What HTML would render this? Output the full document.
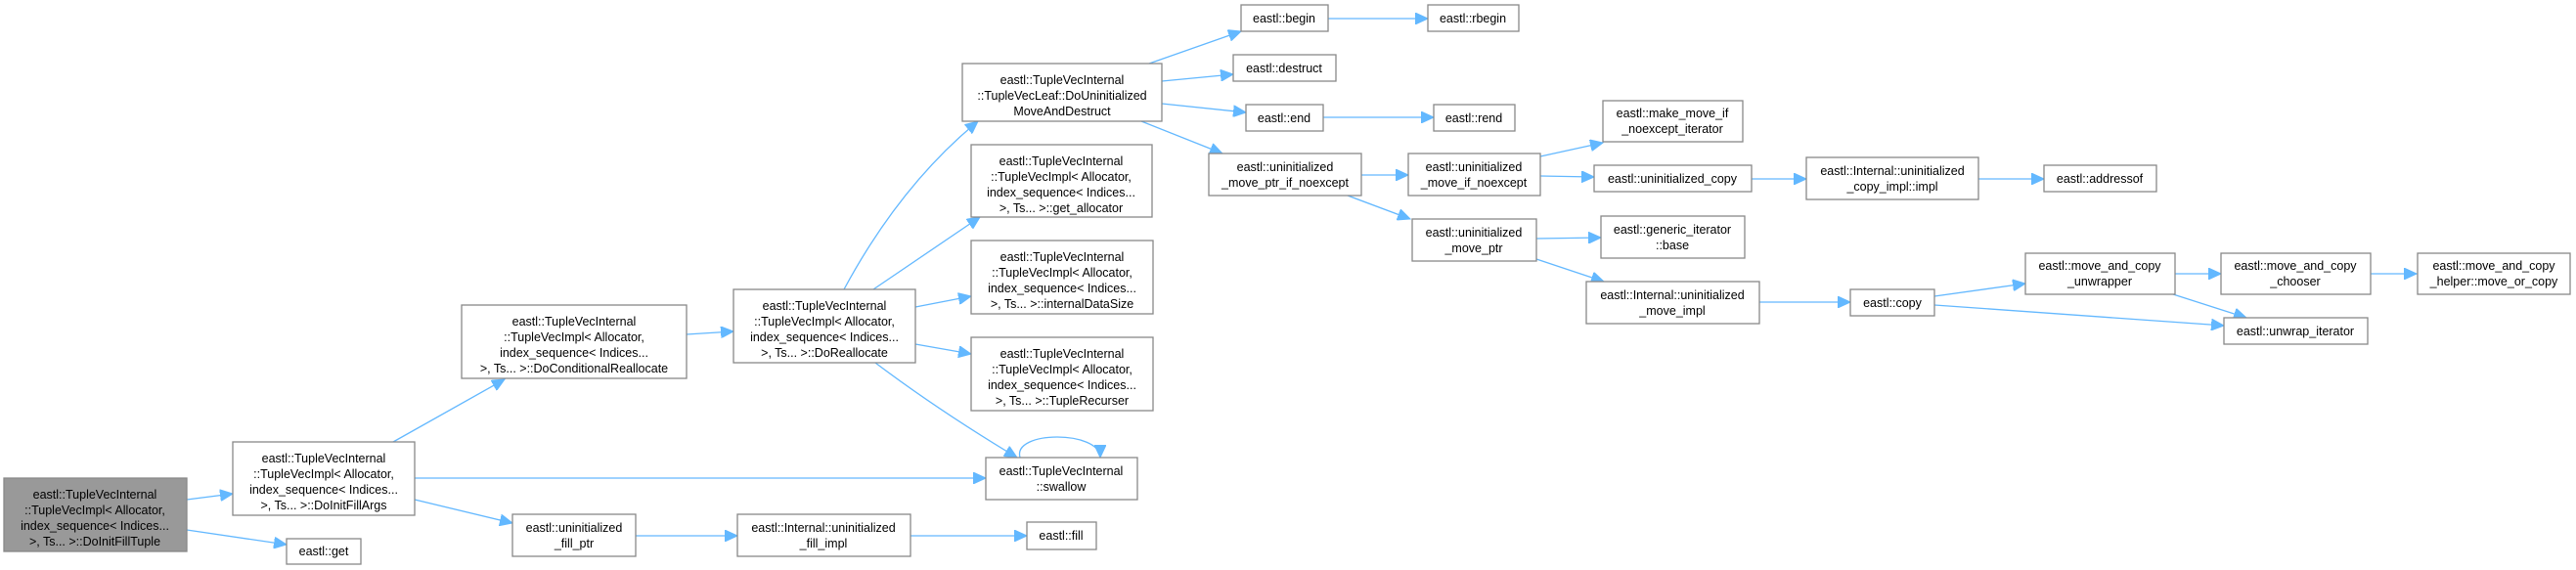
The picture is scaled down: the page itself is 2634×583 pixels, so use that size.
<!DOCTYPE html>
<html><head><meta charset="utf-8"><style>
html,body{margin:0;padding:0;background:#fff;}
svg{display:block;}
text{font-family:"Liberation Sans",Arial,sans-serif;font-size:12.5px;fill:#000;text-anchor:middle;}
rect{fill:#fff;stroke:#888;stroke-width:1.3;}
path,line{stroke:#63b8ff;stroke-width:1.3;fill:none;}
</style></head><body>
<svg width="2634" height="583" viewBox="0 0 2634 583" xmlns="http://www.w3.org/2000/svg">
<defs><marker id="a" markerUnits="userSpaceOnUse" markerWidth="14" markerHeight="12" refX="13" refY="6" orient="auto"><path d="M0,0 L13,6 L0,12 Z" style="fill:#63b8ff;stroke:#63b8ff;stroke-width:1"/></marker></defs>
<g marker-end="url(#a)">
<line x1="191" y1="511" x2="238" y2="505"/>
<line x1="191" y1="542" x2="293" y2="557"/>
<line x1="402" y1="452" x2="516" y2="388"/>
<line x1="424" y1="489" x2="1008" y2="489"/>
<line x1="424" y1="511" x2="524" y2="535"/>
<line x1="650" y1="548" x2="754" y2="548"/>
<line x1="931" y1="548" x2="1050" y2="548"/>
<line x1="702" y1="342" x2="750" y2="339"/>
<line x1="936" y1="314" x2="993" y2="303"/>
<line x1="936" y1="352" x2="993" y2="362"/>
<path d="M895,371 Q960,420 1040,468"/>
<line x1="893" y1="296" x2="1002" y2="222"/>
<path d="M863,296 Q920,190 1000,124"/>
<path d="M1043,468 C1035,440 1125,440 1125,468"/>
<line x1="1175" y1="65" x2="1269" y2="32"/>
<line x1="1188" y1="83" x2="1261" y2="76"/>
<line x1="1188" y1="106" x2="1274" y2="115"/>
<line x1="1167" y1="124" x2="1250" y2="157"/>
<line x1="1358" y1="19" x2="1460" y2="19"/>
<line x1="1353" y1="120" x2="1466" y2="120"/>
<line x1="1392" y1="179" x2="1440" y2="179"/>
<line x1="1378" y1="200" x2="1442" y2="224"/>
<line x1="1575" y1="160" x2="1639" y2="146"/>
<line x1="1575" y1="180" x2="1630" y2="181"/>
<line x1="1791" y1="183" x2="1847" y2="183"/>
<line x1="2023" y1="183" x2="2090" y2="183"/>
<line x1="1571" y1="244" x2="1637" y2="243"/>
<line x1="1571" y1="265" x2="1640" y2="288"/>
<line x1="1799" y1="309" x2="1892" y2="309"/>
<line x1="1978" y1="303" x2="2071" y2="290"/>
<line x1="1978" y1="312" x2="2274" y2="333"/>
<line x1="2224" y1="280" x2="2271" y2="280"/>
<line x1="2222" y1="301" x2="2297" y2="325"/>
<line x1="2424" y1="280" x2="2471" y2="280"/>
</g>
<!-- nodes -->
<rect x="4" y="489" width="187" height="75" style="fill:#999"/>
<text x="97" y="510">eastl::TupleVecInternal</text><text x="97" y="526">::TupleVecImpl&lt; Allocator,</text><text x="97" y="542">index_sequence&lt; Indices...</text><text x="97" y="558">&gt;, Ts... &gt;::DoInitFillTuple</text>
<rect x="238" y="452" width="186" height="75"/>
<text x="331" y="473">eastl::TupleVecInternal</text><text x="331" y="489">::TupleVecImpl&lt; Allocator,</text><text x="331" y="505">index_sequence&lt; Indices...</text><text x="331" y="521">&gt;, Ts... &gt;::DoInitFillArgs</text>
<rect x="472" y="312" width="230" height="75"/>
<text x="587" y="333">eastl::TupleVecInternal</text><text x="587" y="349">::TupleVecImpl&lt; Allocator,</text><text x="587" y="365">index_sequence&lt; Indices...</text><text x="587" y="381">&gt;, Ts... &gt;::DoConditionalReallocate</text>
<rect x="750" y="296" width="186" height="75"/>
<text x="843" y="317">eastl::TupleVecInternal</text><text x="843" y="333">::TupleVecImpl&lt; Allocator,</text><text x="843" y="349">index_sequence&lt; Indices...</text><text x="843" y="365">&gt;, Ts... &gt;::DoReallocate</text>
<rect x="984" y="65" width="204" height="59"/>
<text x="1086" y="86">eastl::TupleVecInternal</text><text x="1086" y="102">::TupleVecLeaf::DoUninitialized</text><text x="1086" y="118">MoveAndDestruct</text>
<rect x="993" y="148" width="185" height="74"/>
<text x="1085" y="169">eastl::TupleVecInternal</text><text x="1085" y="185">::TupleVecImpl&lt; Allocator,</text><text x="1085" y="201">index_sequence&lt; Indices...</text><text x="1085" y="217">&gt;, Ts... &gt;::get_allocator</text>
<rect x="993" y="246" width="186" height="75"/>
<text x="1086" y="267">eastl::TupleVecInternal</text><text x="1086" y="283">::TupleVecImpl&lt; Allocator,</text><text x="1086" y="299">index_sequence&lt; Indices...</text><text x="1086" y="315">&gt;, Ts... &gt;::internalDataSize</text>
<rect x="993" y="345" width="186" height="75"/>
<text x="1086" y="366">eastl::TupleVecInternal</text><text x="1086" y="382">::TupleVecImpl&lt; Allocator,</text><text x="1086" y="398">index_sequence&lt; Indices...</text><text x="1086" y="414">&gt;, Ts... &gt;::TupleRecurser</text>
<rect x="1008" y="468" width="155" height="43"/>
<text x="1085" y="486">eastl::TupleVecInternal</text><text x="1085" y="502">::swallow</text>
<rect x="293" y="551" width="76" height="26"/>
<text x="331" y="568">eastl::get</text>
<rect x="524" y="526" width="126" height="43"/>
<text x="587" y="544">eastl::uninitialized</text><text x="587" y="560">_fill_ptr</text>
<rect x="754" y="526" width="177" height="43"/>
<text x="842" y="544">eastl::Internal::uninitialized</text><text x="842" y="560">_fill_impl</text>
<rect x="1050" y="534" width="71" height="28"/>
<text x="1085" y="552">eastl::fill</text>
<rect x="1269" y="5" width="89" height="27"/>
<text x="1313" y="23">eastl::begin</text>
<rect x="1460" y="5" width="93" height="27"/>
<text x="1506" y="23">eastl::rbegin</text>
<rect x="1261" y="56" width="105" height="27"/>
<text x="1313" y="74">eastl::destruct</text>
<rect x="1274" y="107" width="79" height="27"/>
<text x="1313" y="125">eastl::end</text>
<rect x="1466" y="107" width="83" height="27"/>
<text x="1507" y="125">eastl::rend</text>
<rect x="1236" y="157" width="156" height="43"/>
<text x="1314" y="175">eastl::uninitialized</text><text x="1314" y="191">_move_ptr_if_noexcept</text>
<rect x="1440" y="157" width="135" height="43"/>
<text x="1507" y="175">eastl::uninitialized</text><text x="1507" y="191">_move_if_noexcept</text>
<rect x="1444" y="224" width="127" height="43"/>
<text x="1507" y="242">eastl::uninitialized</text><text x="1507" y="258">_move_ptr</text>
<rect x="1639" y="103" width="143" height="42"/>
<text x="1710" y="120">eastl::make_move_if</text><text x="1710" y="136">_noexcept_iterator</text>
<rect x="1630" y="169" width="161" height="27"/>
<text x="1710" y="187">eastl::uninitialized_copy</text>
<rect x="1847" y="161" width="176" height="43"/>
<text x="1935" y="179">eastl::Internal::uninitialized</text><text x="1935" y="195">_copy_impl::impl</text>
<rect x="2090" y="169" width="115" height="27"/>
<text x="2147" y="187">eastl::addressof</text>
<rect x="1637" y="221" width="147" height="43"/>
<text x="1710" y="239">eastl::generic_iterator</text><text x="1710" y="255">::base</text>
<rect x="1622" y="288" width="177" height="43"/>
<text x="1710" y="306">eastl::Internal::uninitialized</text><text x="1710" y="322">_move_impl</text>
<rect x="1892" y="296" width="86" height="27"/>
<text x="1935" y="314">eastl::copy</text>
<rect x="2071" y="259" width="153" height="42"/>
<text x="2147" y="276">eastl::move_and_copy</text><text x="2147" y="292">_unwrapper</text>
<rect x="2271" y="259" width="153" height="42"/>
<text x="2347" y="276">eastl::move_and_copy</text><text x="2347" y="292">_chooser</text>
<rect x="2472" y="259" width="156" height="42"/>
<text x="2550" y="276">eastl::move_and_copy</text><text x="2550" y="292">_helper::move_or_copy</text>
<rect x="2274" y="325" width="147" height="27"/>
<text x="2347" y="343">eastl::unwrap_iterator</text>
</svg>
</body></html>
